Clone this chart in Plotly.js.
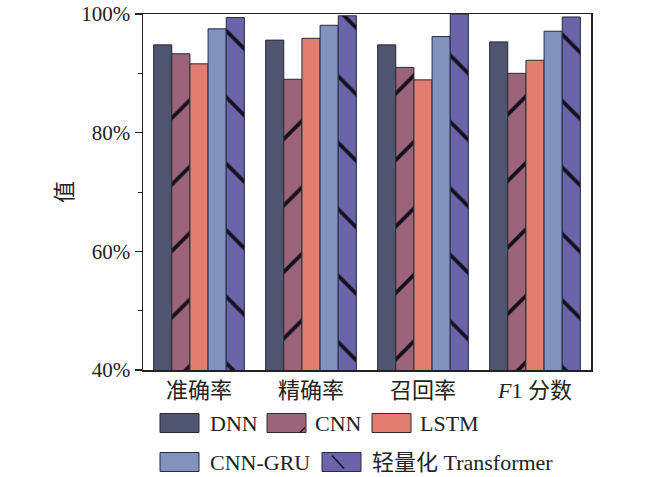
<!DOCTYPE html>
<html>
<head>
<meta charset="utf-8">
<script src="https://cdn.plot.ly/plotly-3.0.1.min.js"></script>
<style>
  html, body { margin: 0; padding: 0; background: #fff; }
  #chart { width: 650px; height: 477px; }
</style>
</head>
<body>
<div id="chart"></div>
<script>
// ─── Data ───
const categories = ["准确率", "精确率", "召回率", "<i>F</i>1 分数"];
const seriesNames = ["DNN", "CNN", "LSTM", "CNN-GRU", "轻量化 Transformer"];
const dnn = [94.8, 95.6, 94.8, 95.3];
const cnn = [93.3, 89.0, 91.0, 90.0];
const lstm = [91.6, 95.9, 88.9, 92.2];
const cnnGru = [97.5, 98.1, 96.2, 97.1];
const transformer = [99.4, 99.7, 100.0, 99.5];
const yTickVals = [40, 60, 80, 100];
const yTickText = ["40%", "60%", "80%", "100%"];

const colors = ["#4f5470", "#9c6478", "#e27d70", "#8192be", "#6c64aa"];
const patterns = ["", "/", "", "", "\\"];
const values = [dnn, cnn, lstm, cnnGru, transformer];

const FONT = "Liberation Serif, Times New Roman, Noto Sans CJK SC, serif";

const traces = values.map((v, i) => ({
  type: "bar",
  name: seriesNames[i],
  x: categories,
  y: v,
  marker: {
    color: colors[i],
    line: { color: "#2a2a3a", width: 1 },
    pattern: {
      shape: patterns[i], size: 47, solidity: 0.08,
      fgcolor: "#15101e", bgcolor: colors[i], fillmode: "replace",
    },
  },
  hoverinfo: "skip",
}));

// ─── Legend drawn by hand so the swatches are as large as in the original ───
const legendRows = [
  [{ i: 0, x0: 160, tx: 208 }, { i: 1, x0: 267, tx: 313 }, { i: 2, x0: 372, tx: 418 }],
  [{ i: 3, x0: 160, tx: 208 }, { i: 4, x0: 322, tx: 370 }],
];
const rowY = [423, 462];
const shapes = [];
const annotations = [];
legendRows.forEach((row, r) => {
  row.forEach((it) => {
    const y0 = rowY[r] - 9.5, y1 = rowY[r] + 9.5;
    shapes.push({
      type: "rect", xref: "paper", yref: "paper",
      x0: (it.x0 - 143) / 448, x1: (it.x0 + 39 - 143) / 448,
      y0: (370 - y1) / 356, y1: (370 - y0) / 356,
      fillcolor: colors[it.i], line: { color: "#2a2a3a", width: 1 },
    });
    if (patterns[it.i] === "/") {
      shapes.push({
        type: "line", xref: "paper", yref: "paper",
        x0: (it.x0 + 33 - 143) / 448, x1: (it.x0 + 38 - 143) / 448,
        y0: (370 - y1) / 356, y1: (370 - y1 + 5) / 356,
        line: { color: "#15101e", width: 1.5 },
      });
    } else if (patterns[it.i] === "\\") {
      shapes.push({
        type: "line", xref: "paper", yref: "paper",
        x0: (it.x0 + 10 - 143) / 448, x1: (it.x0 + 22 - 143) / 448,
        y0: (370 - y0 - 3) / 356, y1: (370 - y1 + 3) / 356,
        line: { color: "#15101e", width: 1.5 },
      });
    }
    annotations.push({
      xref: "paper", yref: "paper",
      x: (it.tx - 143) / 448, y: (370 - rowY[r]) / 356,
      xanchor: "left", yanchor: "middle", showarrow: false,
      text: seriesNames[it.i],
      font: { family: FONT, size: 22, color: "#222" },
    });
  });
});

const layout = {
  width: 650,
  height: 477,
  margin: { l: 143, r: 59, t: 14, b: 107 },
  paper_bgcolor: "#fff",
  plot_bgcolor: "#fff",
  font: { family: FONT, color: "#222" },
  barmode: "group",
  bargap: 0.19,
  bargroupgap: 0,
  showlegend: false,
  xaxis: {
    type: "category",
    showline: true, linecolor: "#222", linewidth: 1.5, mirror: true,
    ticks: "", showgrid: false, zeroline: false,
    tickfont: { family: FONT, size: 22, color: "#222" },
  },
  yaxis: {
    range: [40, 100],
    tickvals: yTickVals, ticktext: yTickText,
    showline: true, linecolor: "#222", linewidth: 1.5, mirror: true,
    ticks: "outside", ticklen: 7, tickwidth: 1.5, tickcolor: "#222",
    minor: { dtick: 10, ticks: "outside", ticklen: 4, tickcolor: "#222", tickwidth: 1 },
    showgrid: false, zeroline: false,
    tickfont: { family: FONT, size: 21, color: "#222" },
    title: { text: "值", font: { family: FONT, size: 22, color: "#222" }, standoff: 2 },
  },
  shapes: shapes,
  annotations: annotations,
};

Plotly.newPlot("chart", traces, layout, { displayModeBar: false, staticPlot: true });
</script>
</body>
</html>
